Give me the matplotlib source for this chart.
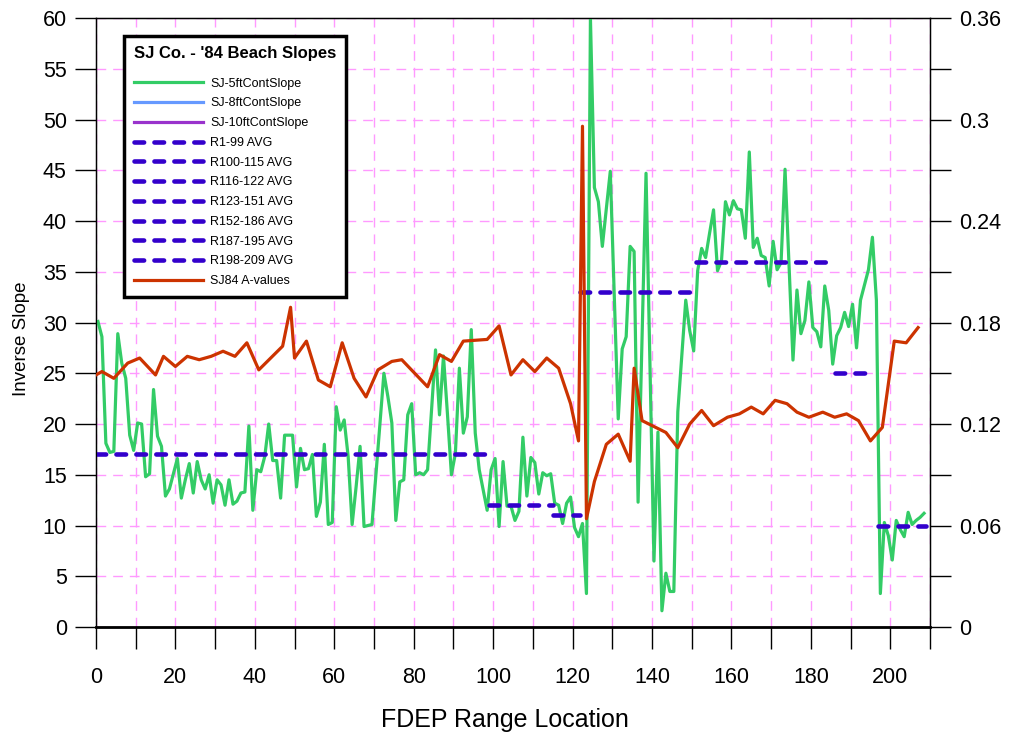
import numpy as np
import matplotlib
matplotlib.use("Agg")
import matplotlib.pyplot as plt
from matplotlib.lines import Line2D

plt.rcParams['font.family'] = ['Liberation Sans', 'DejaVu Sans']

# SJ-5ftContSlope, one value per FDEP range R1..R209
ranges = np.arange(1, 210)
slope_5ft = [
    30.1, 28.6, 18.1, 17.2, 17.3, 28.9, 26.0, 24.5, 18.9, 17.4,
    20.1, 20.0, 14.8, 15.1, 23.4, 18.8, 17.8, 12.9, 13.6, 15.1,
    16.6, 12.7, 14.5, 16.1, 13.2, 16.3, 14.5, 13.6, 15.0, 12.2,
    14.5, 14.0, 12.0, 14.5, 12.1, 12.4, 13.2, 13.3, 19.8, 11.5,
    15.5, 15.3, 16.8, 20.0, 16.4, 16.4, 12.7, 18.9, 18.9, 18.9,
    13.8, 17.6, 15.5, 15.6, 17.0, 10.9, 12.3, 18.0, 10.1, 10.3,
    21.7, 19.4, 20.4, 16.8, 10.1, 13.8, 17.8, 9.9, 10.0, 10.1,
    15.0, 20.0, 25.0, 22.7, 20.1, 10.5, 14.3, 14.5, 20.9, 22.0,
    15.0, 15.2, 15.0, 15.5, 21.4, 27.3, 20.9, 26.7, 21.0, 15.0,
    17.1, 25.5, 19.1, 20.7, 29.3, 19.1, 15.5, 13.5, 11.5, 15.5,
    16.6, 9.9, 16.3, 11.9, 11.9, 10.5, 11.4, 18.7, 12.9, 16.7,
    16.2, 13.1, 15.2, 14.9, 15.1, 12.2, 12.0, 10.2, 12.2, 12.8,
    9.8, 8.9, 10.2, 3.3, 60.0, 43.3, 41.9, 37.5, 41.2, 44.9,
    32.7, 20.5, 27.4, 28.6, 37.5, 37.0, 12.3, 28.5, 44.7, 25.6,
    6.5, 19.2, 1.6, 5.3, 3.5, 3.5, 21.2, 26.7, 32.2, 29.2,
    27.2, 35.1, 37.3, 36.4, 38.8, 41.1, 35.1, 36.1, 41.9, 40.6,
    42.0, 41.2, 41.1, 38.3, 46.8, 37.4, 38.3, 36.6, 36.4, 33.6,
    38.0, 35.2, 35.9, 45.1, 35.7, 26.3, 33.2, 28.9, 30.2, 34.0,
    29.5, 29.1, 27.6, 33.6, 31.2, 25.9, 28.7, 29.5, 31.0, 29.6,
    31.8, 27.5, 32.2, 33.7, 35.2, 38.4, 32.2, 3.3, 10.3, 9.0,
    6.6, 10.5, 9.6, 8.9, 11.3, 10.1, 10.5, 10.8, 11.2,
]

# section averages of the inverse slope
avg_labels = ['R1-99 AVG', 'R100-115 AVG', 'R116-122 AVG', 'R123-151 AVG',
              'R152-186 AVG', 'R187-195 AVG', 'R198-209 AVG']
avg_start = [0, 99, 115, 122, 151, 186, 197]
avg_end = [99, 115, 122, 151, 186, 195, 209]
avg_value = [17.0, 12.0, 11.0, 33.0, 36.0, 25.0, 10.0]

# SJ84 A-values (right axis)
a_x = [0, 1.5, 4.5, 8, 11, 15, 17, 20, 23, 26, 29, 32, 35, 38, 41, 44, 47, 49, 50,
       53, 56, 59, 62, 65, 68, 71, 74.5, 77, 83.5, 86.5, 89.5, 92.5, 98.5, 101.5,
       104.5, 107.5, 110.5, 113.5, 116.5, 119.5, 121.5, 122.5, 123.5, 125.5, 128.5,
       131.5, 134.5, 135.5, 137.5, 143.5, 146.5, 149.5, 152.5, 155.5, 159, 162,
       165, 168, 171, 174, 176.5, 179.5, 183, 186, 189, 192, 195, 198, 201, 204, 207]
a_val = [0.149, 0.151, 0.147, 0.156, 0.159, 0.149, 0.160, 0.154, 0.160, 0.158,
         0.160, 0.163, 0.160, 0.168, 0.152, 0.159, 0.166, 0.189, 0.159, 0.169,
         0.146, 0.142, 0.168, 0.147, 0.136, 0.152, 0.157, 0.158, 0.142, 0.161,
         0.157, 0.169, 0.170, 0.178, 0.149, 0.158, 0.151, 0.159, 0.153, 0.132,
         0.110, 0.296, 0.064, 0.086, 0.108, 0.114, 0.098, 0.153, 0.122, 0.115,
         0.106, 0.120, 0.128, 0.119, 0.124, 0.126, 0.130, 0.126, 0.134, 0.132,
         0.127, 0.124, 0.127, 0.124, 0.126, 0.122, 0.110, 0.118, 0.169, 0.168,
         0.177]

right_ticks = [0, 0.06, 0.12, 0.18, 0.24, 0.30, 0.36]
right_labels = ['0', '0.06', '0.12', '0.18', '0.24', '0.3', '0.36']

green = '#33CC66'
blue = '#3300CC'
red = '#CC3300'
grid_col = '#FF99FF'

fig = plt.figure(figsize=(10.1, 7.38), dpi=100)
ax = fig.add_axes([0.0950, 0.1504, 0.8258, 0.8252])

# green series, drawn mid-cell of each range
ax.plot(ranges - 0.5, slope_5ft, color=green, lw=2.3, zorder=3)
for s, e, v in zip(avg_start, avg_end, avg_value):
    ax.plot([s, e], [v, v], color=blue, lw=3.3, dashes=(2.1, 2.25),
            dash_capstyle='round', zorder=4)

ax.set_xlim(0, 210)
ax.set_ylim(0, 60)
ax.set_xticks(range(0, 201, 20))
ax.set_xticks(range(10, 211, 20), minor=True)
ax.set_yticks(range(0, 61, 5))
ax.tick_params(axis='x', which='both', direction='out', length=16, width=1,
               pad=13, labelsize=15.5)
ax.tick_params(axis='y', which='both', direction='out', length=15, width=1,
               pad=6, labelsize=15.5)
ax.grid(True, which='both', axis='x', color=grid_col, lw=1, linestyle=(0, (7, 5)))
ax.grid(True, which='major', axis='y', color=grid_col, lw=1, linestyle=(0, (7, 5)))
ax.set_axisbelow(True)
for sp in ax.spines.values():
    sp.set_linewidth(1)
ax.spines['bottom'].set_linewidth(2)
ax.set_xlabel('FDEP Range Location', fontsize=18)
ax.xaxis.set_label_coords(0.490, -0.133)
ax.set_ylabel('Inverse Slope', fontsize=13.5)
ax.yaxis.set_label_coords(-0.079, 0.473)

ax2 = ax.twinx()
ax2.plot(a_x, a_val, color=red, lw=2.3, zorder=5)
ax2.set_ylim(0, 0.36)
ax2.set_yticks(right_ticks)
ax2.set_yticklabels(right_labels)
ax2.set_yticks([0.03, 0.09, 0.15, 0.21, 0.27, 0.33], minor=True)
ax2.tick_params(axis='y', which='both', direction='out', length=15, width=1,
                pad=6, labelsize=15.5)

handles = [Line2D([], [], color=green, lw=2.3),
           Line2D([], [], color='#6699FF', lw=2.3),
           Line2D([], [], color='#9933CC', lw=2.3)]
labels = ['SJ-5ftContSlope', 'SJ-8ftContSlope', 'SJ-10ftContSlope']
for lab in avg_labels:
    handles.append(Line2D([], [], color=blue, lw=3.3, dashes=(2.1, 2.25),
                          dash_capstyle='round'))
    labels.append(lab)
handles.append(Line2D([], [], color=red, lw=2.3))
labels.append('SJ84 A-values')

leg = ax2.legend(handles, labels, title="SJ Co. - '84 Beach Slopes",
                 loc='upper left', bbox_to_anchor=(0.0336, 0.9704),
                 borderaxespad=0, fancybox=False, edgecolor='black',
                 framealpha=1, fontsize=9, handlelength=5.5, handletextpad=0.6,
                 labelspacing=0.62, borderpad=0.8,
                 title_fontproperties={'weight': 'bold', 'size': 12})
leg.get_frame().set_linewidth(2.5)
leg._legend_box.align = 'left'
leg._legend_box.sep = 12

fig.savefig('out.png', dpi=100)
